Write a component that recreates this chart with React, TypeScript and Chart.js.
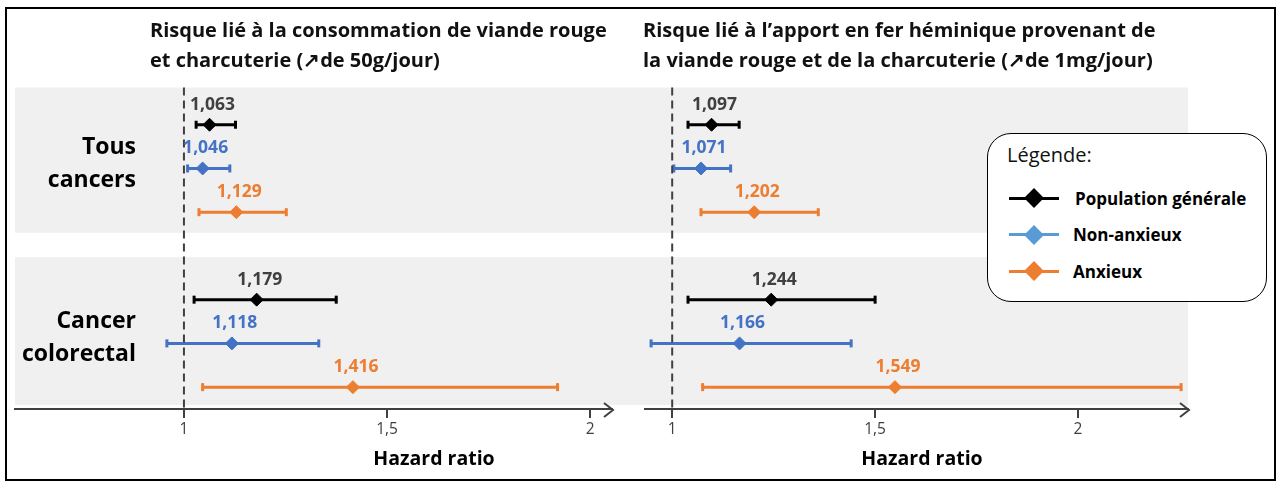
import React, { useEffect, useRef } from "react";
import { Chart, registerables } from "chart.js";

Chart.register(...registerables);

// ---------- Data ----------
const groupLabels = [["Tous", "cancers"], ["Cancer", "colorectal"]];
const seriesNames = ["Population générale", "Non-anxieux", "Anxieux"];
const seriesColors = ["#000000", "#4472C4", "#ED7D31"];
const valueLabelColors = ["#404040", "#4472C4", "#ED7D31"];
const legendColors = ["#000000", "#5B9BD5", "#ED7D31"];
// y slots (top → bottom): Tous cancers [pop, non, anx], gap, Cancer colorectal [pop, non, anx]
const rowSlots = [1, 2, 3, 5, 6, 7];
const rowSeries = [0, 1, 2, 0, 1, 2];

// Left panel: consommation de viande rouge et charcuterie (+50 g/jour)
const meatHR = [1.063, 1.046, 1.129, 1.179, 1.118, 1.416];
const meatLow = [1.03, 1.009, 1.037, 1.025, 0.958, 1.046];
const meatHigh = [1.127, 1.113, 1.252, 1.375, 1.332, 1.92];

// Right panel: fer héminique (+1 mg/jour)
const ironHR = [1.097, 1.071, 1.202, 1.244, 1.166, 1.549];
const ironLow = [1.039, 1.004, 1.071, 1.039, 0.948, 1.075];
const ironHigh = [1.165, 1.144, 1.36, 1.5, 1.441, 2.254];

const xTicks = [1, 1.5, 2];
const meatRange = [0.584, 2.054];
const ironRange = [0.933, 2.271];
const yRange = [0, 7.5];
const bandRanges = [
  [0.15, 3.47],
  [4.03, 7.41],
];
const refLine = [0.15, 7.5];

const FONT = "'Open Sans', 'Noto Sans', sans-serif";
const AXIS = "#404040";

const fmt = (v: number) => String(v).replace(".", ",");
const fmt3 = (v: number) => v.toFixed(3).replace(".", ",");

type PanelProps = {
  hr: number[];
  low: number[];
  high: number[];
  range: number[];
  side: "left" | "right";
  left: number;
  width: number;
  padLeft: number;
  padRight: number;
};

function Panel({ hr, low, high, range, side, left, width, padLeft, padRight }: PanelProps) {
  const ref = useRef<HTMLCanvasElement | null>(null);

  useEffect(() => {
    if (!ref.current) return;

    const datasets: any[] = [];
    // reference dashed line at HR = 1 (on top)
    datasets.push({
      type: "line",
      data: [
        { x: 1, y: refLine[0] },
        { x: 1, y: refLine[1] },
      ],
      borderColor: AXIS,
      borderWidth: 2,
      borderDash: [8, 5],
      pointRadius: 0,
    });
    // diamonds
    rowSlots.forEach((slot, i) => {
      const s = rowSeries[i];
      datasets.push({
        type: "scatter",
        data: [{ x: hr[i], y: slot }],
        pointStyle: "rectRot",
        pointRadius: 6.5,
        backgroundColor: seriesColors[s],
        borderColor: seriesColors[s],
        borderWidth: 1,
        valueLabel: fmt3(hr[i]),
        valueColor: valueLabelColors[s],
      });
    });
    // CI bars
    rowSlots.forEach((slot, i) => {
      const s = rowSeries[i];
      datasets.push({
        type: "line",
        data: [
          { x: low[i], y: slot },
          { x: high[i], y: slot },
        ],
        borderColor: seriesColors[s],
        borderWidth: 3,
        pointStyle: "line",
        pointRotation: 90,
        pointRadius: 4,
        pointBorderWidth: 3,
        pointBorderColor: seriesColors[s],
      });
    });

    const bandPlugin = {
      id: "bands",
      beforeDraw(chart: any) {
        const { ctx, chartArea } = chart;
        const y = chart.scales.y;
        const x0 = side === "left" ? chartArea.left : 0;
        const x1 = side === "left" ? chart.width : chartArea.right;
        ctx.save();
        ctx.fillStyle = "#F0F0F0";
        for (const [a, b] of bandRanges) {
          const ya = y.getPixelForValue(a);
          const yb = y.getPixelForValue(b);
          ctx.fillRect(x0, ya, x1 - x0, yb - ya);
        }
        ctx.restore();
      },
    };

    const arrowPlugin = {
      id: "arrow",
      afterDraw(chart: any) {
        const { ctx } = chart;
        const xs = chart.scales.x;
        const r = xs.right + 1;
        const yy = xs.top + 1;
        ctx.save();
        ctx.strokeStyle = AXIS;
        ctx.lineWidth = 2;
        ctx.beginPath();
        ctx.moveTo(r - 9, yy - 7);
        ctx.lineTo(r, yy);
        ctx.lineTo(r - 9, yy + 7);
        ctx.stroke();
        ctx.restore();
      },
    };

    const labelPlugin = {
      id: "valueLabels",
      afterDatasetsDraw(chart: any) {
        const { ctx } = chart;
        ctx.save();
        ctx.font = `bold 17.5px ${FONT}`;
        ctx.textAlign = "center";
        ctx.textBaseline = "middle";
        chart.data.datasets.forEach((ds: any, di: number) => {
          if (!ds.valueLabel) return;
          const el = chart.getDatasetMeta(di).data[0];
          if (!el) return;
          ctx.fillStyle = ds.valueColor;
          ctx.fillText(ds.valueLabel, el.x + 3, el.y - 20);
        });
        ctx.restore();
      },
    };

    const chart = new Chart(ref.current, {
      type: "scatter",
      data: { datasets },
      options: {
        animation: false,
        responsive: false,
        maintainAspectRatio: false,
        events: [],
        layout: { padding: { left: padLeft, right: padRight, top: 81, bottom: 0 } },
        plugins: { legend: { display: false }, tooltip: { enabled: false }, title: { display: false } },
        scales: {
          x: {
            type: "linear",
            position: "bottom",
            min: range[0],
            max: range[1],
            afterBuildTicks: (scale: any) => {
              scale.ticks = xTicks.map((v) => ({ value: v }));
            },
            afterFit: (scale: any) => {
              scale.height = 74;
            },
            ticks: {
              callback: (v: any) => fmt(Number(v)),
              font: { family: FONT, size: 15.5 },
              color: AXIS,
              padding: 2,
              maxRotation: 0,
              autoSkip: false,
            },
            grid: {
              drawOnChartArea: false,
              drawTicks: true,
              tickLength: 9,
              tickWidth: 2,
              tickColor: AXIS,
              color: AXIS,
              lineWidth: 2,
            },
            border: { display: true, color: AXIS, width: 2 },
          },
          y: {
            type: "linear",
            display: false,
            reverse: true,
            min: yRange[0],
            max: yRange[1],
          },
        },
      } as any,
      plugins: [bandPlugin, arrowPlugin, labelPlugin],
    });
    return () => chart.destroy();
  }, []);

  return (
    <canvas
      ref={ref}
      width={width}
      height={483}
      style={{ position: "absolute", left, top: 0, width, height: 483 }}
    />
  );
}

function LegendMarker({ color }: { color: string }) {
  return (
    <div style={{ position: "relative", width: 50, height: 20, marginRight: 14 }}>
      <div style={{ position: "absolute", left: 0, top: 8.5, width: 50, height: 3, background: color }} />
      <div
        style={{
          position: "absolute",
          left: 18,
          top: 3,
          width: 14,
          height: 14,
          background: color,
          transform: "rotate(45deg)",
        }}
      />
    </div>
  );
}

export default function App() {
  const titleStyle: React.CSSProperties = {
    position: "absolute",
    top: 15,
    fontFamily: FONT,
    fontWeight: 700,
    fontSize: 20,
    lineHeight: "30px",
    color: "#111",
    whiteSpace: "nowrap",
  };
  const rowLabelStyle: React.CSSProperties = {
    position: "absolute",
    left: 0,
    width: 136,
    textAlign: "right",
    fontFamily: FONT,
    fontWeight: 700,
    fontSize: 23,
    lineHeight: "33px",
    color: "#000",
  };
  const axisTitleStyle: React.CSSProperties = {
    position: "absolute",
    top: 445,
    width: 200,
    textAlign: "center",
    fontFamily: FONT,
    fontWeight: 700,
    fontSize: 19.5,
    lineHeight: "26px",
    color: "#000",
  };
  return (
    <div
      style={{
        position: "fixed",
        left: 0,
        top: 0,
        width: 1278,
        height: 483,
        background: "#fff",
        overflow: "hidden",
      }}
    >
      <div
        style={{
          position: "absolute",
          left: 5,
          top: 7,
          width: 1271,
          height: 474,
          boxSizing: "border-box",
          border: "2px solid #000",
        }}
      />
      <Panel hr={meatHR} low={meatLow} high={meatHigh} range={meatRange} side="left" left={0} width={630} padLeft={15} padRight={18} />
      <Panel hr={ironHR} low={ironLow} high={ironHigh} range={ironRange} side="right" left={630} width={648} padLeft={15} padRight={90} />

      <div style={{ ...titleStyle, left: 150 }}>
        Risque lié à la consommation de viande rouge
        <br />
        et charcuterie (↗de 50g/jour)
      </div>
      <div style={{ ...titleStyle, left: 643 }}>
        Risque lié à l’apport en fer héminique provenant de
        <br />
        la viande rouge et de la charcuterie (↗de 1mg/jour)
      </div>

      <div style={{ ...rowLabelStyle, top: 129 }}>
        {groupLabels[0][0]}
        <br />
        {groupLabels[0][1]}
      </div>
      <div style={{ ...rowLabelStyle, top: 303 }}>
        {groupLabels[1][0]}
        <br />
        {groupLabels[1][1]}
      </div>

      <div style={{ ...axisTitleStyle, left: 334 }}>Hazard ratio</div>
      <div style={{ ...axisTitleStyle, left: 822 }}>Hazard ratio</div>

      <div
        style={{
          position: "absolute",
          left: 987,
          top: 133,
          width: 280,
          height: 169,
          boxSizing: "border-box",
          border: "1.5px solid #000",
          borderRadius: 24,
          background: "#fff",
          fontFamily: FONT,
        }}
      >
        <div style={{ position: "absolute", left: 19, top: 8, fontSize: 20, lineHeight: "26px", color: "#111" }}>
          Légende:
        </div>
        {seriesNames.map((name, i) => (
          <div
            key={name}
            style={{
              position: "absolute",
              left: 21,
              top: 54 + i * 36.5,
              display: "flex",
              alignItems: "center",
              height: 20,
            }}
          >
            <LegendMarker color={legendColors[i]} />
            <span
              style={{
                fontWeight: 700,
                fontSize: 17,
                color: "#000",
                marginLeft: i === 0 ? 2 : 0,
                whiteSpace: "nowrap",
              }}
            >
              {name}
            </span>
          </div>
        ))}
      </div>
    </div>
  );
}
